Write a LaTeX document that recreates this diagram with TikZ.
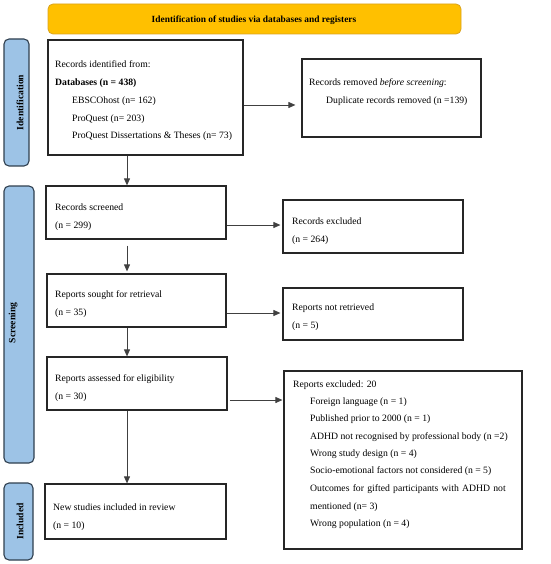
\documentclass[tikz,border=0pt]{standalone}
\usepackage{fontspec}
\setmainfont{Liberation Serif}
\usetikzlibrary{arrows.meta}
\definecolor{bannerfill}{HTML}{FFC000}
\definecolor{bannerdraw}{HTML}{D9A21E}
\definecolor{barfill}{HTML}{9DC3E6}
\definecolor{bardraw}{HTML}{2F3F4F}
\newlength\adhdwidth
\tikzset{
  box/.style={draw=black!85, line width=1.2pt, rectangle, inner sep=0pt},
  bar/.style={draw=bardraw, fill=barfill, line width=1.1pt, rounded corners=5pt, inner sep=0pt},
  banner/.style={draw=bannerdraw, fill=bannerfill, line width=0.8pt, rounded corners=5pt, inner sep=0pt},
  txt/.style={anchor=base west, inner sep=0pt, font=\fontsize{9.7}{11}\selectfont},
  side/.style={rotate=90, inner sep=0pt, font=\fontsize{9.6}{11}\selectfont\bfseries},
  arr/.style={draw=black!75, line width=0.9pt, -{Triangle[length=7pt,width=6pt]}},
}
\newcommand{\boxat}[5]{\node[box, minimum width=#4-#2, minimum height=#5-#3] (#1) at ({(#2+#4)/2},{(#3+#5)/2}) {};}
\begin{document}
\begin{tikzpicture}[x=1pt,y=-1pt]
\useasboundingbox (0,0) rectangle (550,564);
% banner
\node[banner, minimum width=413, minimum height=30] (ban) at (254.5,19) {};
\node[inner sep=0pt, font=\fontsize{9.4}{11}\selectfont\bfseries] (bantxt) at (254,20.5) {Identification of studies via databases and registers};
% side bars
\node[bar, minimum width=25, minimum height=127] (barid) at (16.5,102.5) {};
\node[side] (barid-t) at (20,102.5) {Identification};
\node[bar, minimum width=30, minimum height=277] (barsc) at (19,324.5) {};
\node[side] (barsc-t) at (13,323) {Screening};
\node[bar, minimum width=29, minimum height=77] (barin) at (18.5,521.5) {};
\node[side] (barin-t) at (20,521.5) {Included};
% boxes
\boxat{recid}{48}{40}{243}{155}
\boxat{removed}{302}{59}{481}{137}
\boxat{screened}{46}{186}{226}{239}
\boxat{excl}{283}{200}{463}{253}
\boxat{sought}{47}{274}{226}{327}
\boxat{notret}{283}{288}{463}{340}
\boxat{assessed}{47}{357}{227}{410}
\boxat{repexcl}{284}{371}{522}{549}
\boxat{newst}{45}{484}{226}{539}
% texts
\node[txt] (t1) at (55,68) {Records identified from:};
\node[txt] (t2) at (55,86) {\textbf{Databases (n = 438)}};
\node[txt] (t3) at (72,104) {EBSCOhost (n= 162)};
\node[txt] (t4) at (72,121.5) {ProQuest (n= 203)};
\node[txt] (t5) at (72,139) {ProQuest Dissertations \& Theses (n= 73)};
\node[txt] (t6) at (309,86) {Records removed \textit{before screening}:};
\node[txt] (t7) at (326,104) {Duplicate records removed (n =139)};
\node[txt] (t8) at (55,210) {Records screened};
\node[txt] (t9) at (55,228) {(n = 299)};
\node[txt] (t10) at (292,224) {Records excluded};
\node[txt] (t11) at (292,242) {(n = 264)};
\node[txt] (t12) at (55,297) {Reports sought for retrieval};
\node[txt] (t13) at (55,315) {(n = 35)};
\node[txt] (t14) at (292,310) {Reports not retrieved};
\node[txt] (t15) at (292,328) {(n = 5)};
\node[txt] (t16) at (55,381) {Reports assessed for eligibility};
\node[txt] (t17) at (55,399) {(n = 30)};
\node[txt] (t18) at (53,510) {New studies included in review};
\node[txt] (t19) at (53,528) {(n = 10)};
\node[txt] (r0) at (293,387) {Reports excluded: 20};
\node[txt] (r1) at (310,404) {Foreign language (n = 1)};
\node[txt] (r2) at (310,421.5) {Published prior to 2000 (n = 1)};
\node[txt] (r3) at (310,439) {ADHD not recognised by professional body (n =2)};
\node[txt] (r4) at (310,456) {Wrong study design (n = 4)};
\node[txt] (r5) at (310,473.5) {Socio-emotional factors not considered (n = 5)};
\node[txt] (r6) at (310,491) {\settowidth{\adhdwidth}{ADHD not recognised by professional body (n =2)}\makebox[\dimexpr\adhdwidth-2pt\relax][s]{Outcomes for gifted participants with ADHD not}};
\node[txt] (r7) at (310,509) {mentioned (n= 3)};
\node[txt] (r8) at (310,526.5) {Wrong population (n = 4)};
% arrows
\draw[arr, shorten >=6pt] (recid.east |- 0,105) -- (removed.west |- 0,105);
\draw[arr, shorten >=2pt] (screened.east |- 0,225) -- (excl.west |- 0,225);
\draw[arr, shorten >=2pt] (sought.east |- 0,313) -- (notret.west |- 0,313);
\draw[arr, shorten <=2pt, shorten >=1pt] (assessed.east |- 0,400) -- (repexcl.west |- 0,400);
\draw[arr] (recid.south -| 127,0) -- (screened.north -| 127,0);
\draw[arr, shorten <=6pt, shorten >=2pt] (screened.south -| 127,0) -- (sought.north -| 127,0);
\draw[arr] (sought.south -| 127,0) -- (assessed.north -| 127,0);
\draw[arr] (assessed.south -| 127,0) -- (newst.north -| 127,0);
\end{tikzpicture}
\end{document}
